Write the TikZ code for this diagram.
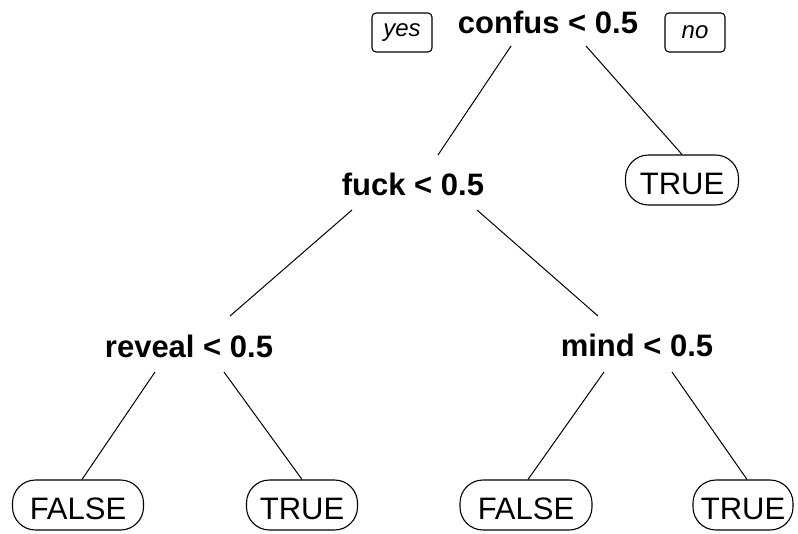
\documentclass[tikz,border=0pt]{standalone}
\usepackage{fontspec}
\setmainfont{Liberation Sans}
\usetikzlibrary{calc}

\begin{document}
\begin{tikzpicture}[
		x=1pt, y=-1pt,
		split/.style={
				inner sep=0pt,
				anchor=base,
				font=\fontsize{31}{34}\selectfont\bfseries
			},
		leaf/.style={
				draw,
				rectangle,
				line width=1.1pt,
				rounded corners=23pt,
				minimum height=50pt,
				text height=29pt, % pushes the word a little below centre
				text depth=0pt,
				inner sep=0pt,
				font=\fontsize{31}{34}\selectfont
			},
		tag/.style={
				draw,
				rectangle,
				line width=1.1pt,
				rounded corners=4pt,
				minimum width=60pt,
				minimum height=39pt,
				inner sep=0pt,
				font=\fontsize{24}{28}\selectfont\itshape
			},
		branch/.style={line width=1pt}
	]
	\useasboundingbox (0,0) rectangle (798,533);

	% Split labels
	\node[split] (confus) at (548,33) {confus < 0.5};
	\node[split] (fuck) at (413,195) {fuck < 0.5};
	\node[split] (reveal) at (189,357) {reveal < 0.5};
	\node[split] (mind) at (637,356) {mind < 0.5};

	% Leaves
	\node[leaf, minimum width=113pt] (true_a) at (682,180) {TRUE};
	\node[leaf, minimum width=131pt] (false_a) at (78,505) {FALSE};
	\node[leaf, minimum width=111pt] (true_b) at (302,505) {TRUE};
	\node[leaf, minimum width=132pt] (false_b) at (526,505) {FALSE};
	\node[leaf, minimum width=100pt] (true_c) at (743,505) {TRUE};

	% yes / no
	\node[tag] (yes) at (402,32.5) {yes};
	\node[tag] (no) at (695,32.5) {no};

	% Branches
	\draw[branch] ([xshift=-37pt,yshift=-13pt]confus.base) -- ([xshift=25pt,yshift=40pt]fuck.base);
	\draw[branch] ([xshift=38pt,yshift=-13pt]confus.base) -- (true_a.north);
	\draw[branch] ([xshift=-61pt,yshift=-15pt]fuck.base) -- ([xshift=41pt,yshift=41pt]reveal.base);
	\draw[branch] ([xshift=64pt,yshift=-15pt]fuck.base) -- ([xshift=-39pt,yshift=40pt]mind.base);
	\draw[branch] ([xshift=-34pt,yshift=-15pt]reveal.base) -- ([xshift=4pt]false_a.north);
	\draw[branch] ([xshift=35pt,yshift=-15pt]reveal.base) -- (true_b.north);
	\draw[branch] ([xshift=-33pt,yshift=-16pt]mind.base) -- ([xshift=2pt]false_b.north);
	\draw[branch] ([xshift=35pt,yshift=-16pt]mind.base) -- ([xshift=4pt]true_c.north);
\end{tikzpicture}
\end{document}
